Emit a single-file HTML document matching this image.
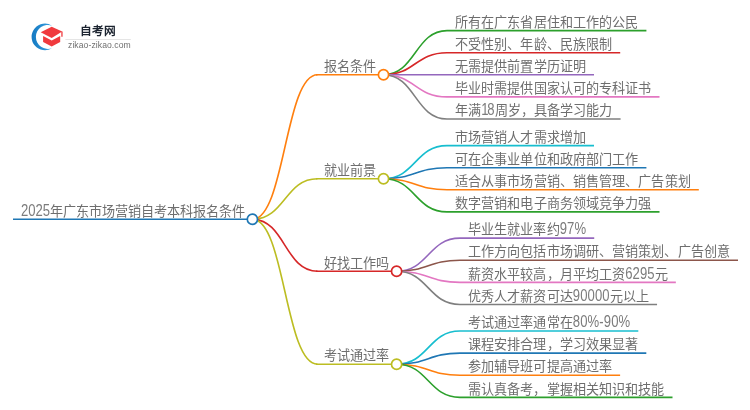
<!DOCTYPE html>
<html lang="zh-CN"><head><meta charset="utf-8"><style>
html,body{margin:0;padding:0;background:#fff;width:750px;height:410px;overflow:hidden;position:relative}
body{font-family:"Liberation Sans",sans-serif}
.tw{position:absolute;left:0;top:0;width:750px;height:410px;will-change:transform}
.n{display:inline-block;color:#7c7c7c;transform:scaleY(1.22);transform-origin:0 13.5px}
.t{position:absolute;font-size:13.1px;line-height:18px;letter-spacing:0.1px;color:#6e6e6e;white-space:nowrap}
svg.m{position:absolute;left:0;top:0}
svg.m path{fill:none;stroke-width:1.6}
svg.m circle{fill:#fff;stroke-width:1.7}
</style></head><body>

<svg class="logo" width="750" height="60" viewBox="0 0 750 60" style="position:absolute;left:0;top:0">
  <defs><linearGradient id="cg" x1="0" y1="0" x2="1" y2="0"><stop offset="0" stop-color="#1479c2"/><stop offset="1" stop-color="#3aa0e0"/></linearGradient></defs>
  <path d="M52,25.65 A13.3,13.3 0 1 0 52,48.15 A11.98,11.98 0 1 1 52,25.65Z" fill="url(#cg)"/>
  <path d="M40.7,32.2 L51.7,26.8 L62.2,31.6 L51.7,38.1 Z" fill="#f03a3e"/>
  <path d="M43.1,36 L51.7,40.6 L60.2,36 L60.2,42 L51.7,46.6 L43.1,42 Z" fill="#f03a3e"/>
  <path d="M61.3,31.8 L62.6,31.6 L62.6,36.8 L61.3,36.8Z" fill="#f03a3e"/>
  <rect x="65.4" y="39" width="65.4" height="0.9" fill="#e2e2e2"/>
</svg>
<div style="position:absolute;will-change:transform;left:80.3px;top:22.7px;font-size:11.7px;line-height:16px;font-weight:bold;color:#1c2430;white-space:nowrap">自考网</div>
<div style="position:absolute;will-change:transform;left:67.6px;top:40px;font-size:8.6px;line-height:10px;letter-spacing:0.08px;color:#707070;white-space:nowrap">zikao-zikao.com</div>

<svg class="m" width="750" height="410" viewBox="0 -0.4 750 410">
<path d="M252.40,218.90C284.95,218.90 284.95,74.40 317.50,74.40" stroke="#ff7f0e"/>
<path d="M383.50,74.40C415.25,74.40 415.25,30.20 447.00,30.20" stroke="#2ca02c"/>
<path d="M383.50,74.40C415.25,74.40 415.25,52.30 447.00,52.30" stroke="#d62728"/>
<path d="M383.50,74.40C415.25,74.40 415.25,74.40 447.00,74.40" stroke="#9467bd"/>
<path d="M383.50,74.40C415.25,74.40 415.25,96.50 447.00,96.50" stroke="#e377c2"/>
<path d="M383.50,74.40C415.25,74.40 415.25,118.60 447.00,118.60" stroke="#7f7f7f"/>
<path d="M252.40,218.90C284.95,218.90 284.95,178.35 317.50,178.35" stroke="#bcbd22"/>
<path d="M383.50,178.35C415.25,178.35 415.25,145.20 447.00,145.20" stroke="#17becf"/>
<path d="M383.50,178.35C415.25,178.35 415.25,167.30 447.00,167.30" stroke="#1f77b4"/>
<path d="M383.50,178.35C415.25,178.35 415.25,189.40 447.00,189.40" stroke="#ff7f0e"/>
<path d="M383.50,178.35C415.25,178.35 415.25,211.50 447.00,211.50" stroke="#2ca02c"/>
<path d="M252.40,218.90C284.95,218.90 284.95,270.90 317.50,270.90" stroke="#d62728"/>
<path d="M396.60,270.90C428.30,270.90 428.30,237.75 460.00,237.75" stroke="#9467bd"/>
<path d="M396.60,270.90C428.30,270.90 428.30,259.85 460.00,259.85" stroke="#8c564b"/>
<path d="M396.60,270.90C428.30,270.90 428.30,281.95 460.00,281.95" stroke="#e377c2"/>
<path d="M396.60,270.90C428.30,270.90 428.30,304.05 460.00,304.05" stroke="#7f7f7f"/>
<path d="M252.40,218.90C284.95,218.90 284.95,363.80 317.50,363.80" stroke="#bcbd22"/>
<path d="M396.60,363.80C428.30,363.80 428.30,330.65 460.00,330.65" stroke="#17becf"/>
<path d="M396.60,363.80C428.30,363.80 428.30,352.75 460.00,352.75" stroke="#1f77b4"/>
<path d="M396.60,363.80C428.30,363.80 428.30,374.85 460.00,374.85" stroke="#ff7f0e"/>
<path d="M396.60,363.80C428.30,363.80 428.30,396.95 460.00,396.95" stroke="#2ca02c"/>
<path d="M13.00,218.90H252.40" stroke="#1f77b4"/>
<path d="M316.00,74.40H383.50" stroke="#ff7f0e"/>
<path d="M447.00,30.20H646.41" stroke="#2ca02c"/>
<path d="M447.00,52.30H620.20" stroke="#d62728"/>
<path d="M447.00,74.40H594.00" stroke="#9467bd"/>
<path d="M447.00,96.50H659.50" stroke="#e377c2"/>
<path d="M447.00,118.60H620.59" stroke="#7f7f7f"/>
<path d="M316.00,178.35H383.50" stroke="#bcbd22"/>
<path d="M447.00,145.20H594.00" stroke="#17becf"/>
<path d="M447.00,167.30H646.41" stroke="#1f77b4"/>
<path d="M447.00,189.40H698.81" stroke="#ff7f0e"/>
<path d="M447.00,211.50H659.50" stroke="#2ca02c"/>
<path d="M316.00,270.90H396.60" stroke="#d62728"/>
<path d="M460.00,237.75H594.22" stroke="#9467bd"/>
<path d="M460.00,259.85H738.00" stroke="#8c564b"/>
<path d="M460.00,281.95H675.84" stroke="#e377c2"/>
<path d="M460.00,304.05H657.05" stroke="#7f7f7f"/>
<path d="M316.00,363.80H396.60" stroke="#bcbd22"/>
<path d="M460.00,330.65H638.30" stroke="#17becf"/>
<path d="M460.00,352.75H646.31" stroke="#1f77b4"/>
<path d="M460.00,374.85H620.11" stroke="#ff7f0e"/>
<path d="M460.00,396.95H672.50" stroke="#2ca02c"/>
<circle cx="252.40" cy="218.90" r="5.1" stroke="#1f77b4"/>
<circle cx="383.50" cy="74.40" r="5.1" stroke="#ff7f0e"/>
<circle cx="383.50" cy="178.35" r="5.1" stroke="#bcbd22"/>
<circle cx="396.60" cy="270.90" r="5.1" stroke="#d62728"/>
<circle cx="396.60" cy="363.80" r="5.1" stroke="#bcbd22"/>
</svg>
<div class="tw">
<div class="t" style="letter-spacing:0;left:21.00px;top:202.50px"><span class="n">2025</span>年广东市场营销自考本科报名条件</div>
<div class="t" style="left:324.00px;top:58.00px">报名条件</div>
<div class="t" style="left:455.00px;top:13.80px">所有在广东省居住和工作的公民</div>
<div class="t" style="left:455.00px;top:35.90px">不受性别、年龄、民族限制</div>
<div class="t" style="left:455.00px;top:58.00px">无需提供前置学历证明</div>
<div class="t" style="left:455.00px;top:80.10px">毕业时需提供国家认可的专科证书</div>
<div class="t" style="left:455.00px;top:102.20px">年满<span class="n"><span style="letter-spacing:-1.2px">1</span>8</span>周岁，具备学习能力</div>
<div class="t" style="left:324.00px;top:161.95px">就业前景</div>
<div class="t" style="left:455.00px;top:128.80px">市场营销人才需求增加</div>
<div class="t" style="left:455.00px;top:150.90px">可在企事业单位和政府部门工作</div>
<div class="t" style="left:455.00px;top:173.00px">适合从事市场营销、销售管理、广告策划</div>
<div class="t" style="left:455.00px;top:195.10px">数字营销和电子商务领域竞争力强</div>
<div class="t" style="left:324.00px;top:254.50px">好找工作吗</div>
<div class="t" style="left:468.00px;top:221.35px">毕业生就业率约<span class="n">97%</span></div>
<div class="t" style="left:468.00px;top:243.45px">工作方向包括市场调研、营销策划、广告创意</div>
<div class="t" style="left:468.00px;top:265.55px">薪资水平较高，月平均工资<span class="n">6295</span>元</div>
<div class="t" style="left:468.00px;top:287.65px">优秀人才薪资可达<span class="n">90000</span>元以上</div>
<div class="t" style="left:324.00px;top:347.40px">考试通过率</div>
<div class="t" style="left:468.00px;top:314.25px">考试通过率通常在<span class="n">80%-90%</span></div>
<div class="t" style="left:468.00px;top:336.35px">课程安排合理，学习效果显著</div>
<div class="t" style="left:468.00px;top:358.45px">参加辅导班可提高通过率</div>
<div class="t" style="left:468.00px;top:380.55px">需认真备考，掌握相关知识和技能</div>
</div>
</body></html>
